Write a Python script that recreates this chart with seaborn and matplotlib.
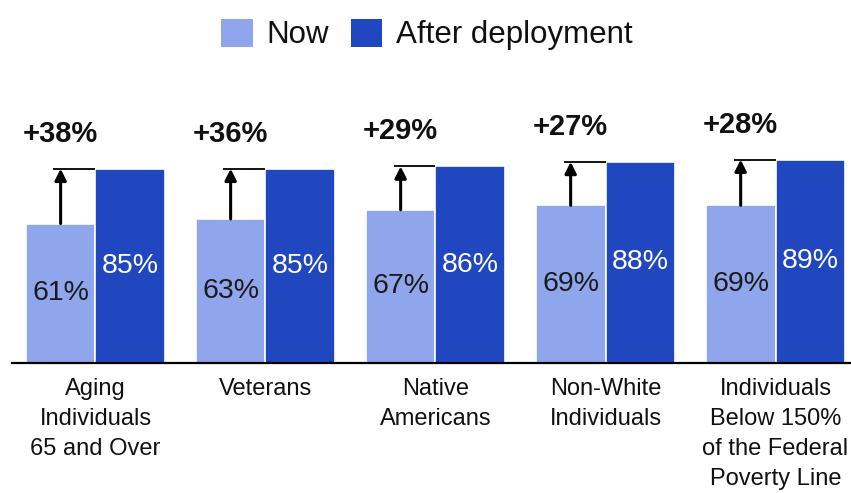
import matplotlib
matplotlib.use("Agg")
import matplotlib.pyplot as plt
from matplotlib.patches import Patch
import seaborn as sns
import pandas as pd

categories = [
    "Aging\nIndividuals\n65 and Over",
    "Veterans",
    "Native\nAmericans",
    "Non-White\nIndividuals",
    "Individuals\nBelow 150%\nof the Federal\nPoverty Line",
]
now_values = [61, 63, 67, 69, 69]
after_values = [85, 85, 86, 88, 89]
increase_labels = ["+38%", "+36%", "+29%", "+27%", "+28%"]
series_names = ["Now", "After deployment"]

COLOR_NOW = "#8FA6EC"
COLOR_AFTER = "#2046C0"

sns.set_theme(style="white")
plt.rcParams["font.family"] = ["Liberation Sans", "DejaVu Sans"]
plt.rcParams["text.color"] = "#111111"

df = pd.DataFrame({
    "group": categories * 2,
    "series": [series_names[0]] * len(categories) + [series_names[1]] * len(categories),
    "value": now_values + after_values,
})

fig = plt.figure(figsize=(8.51, 4.93), dpi=100)
ax = fig.add_axes([12 / 851, 130 / 493, 839 / 851, 363 / 493])

sns.barplot(
    data=df, x="group", y="value", hue="series",
    order=categories, hue_order=series_names,
    palette=[COLOR_NOW, COLOR_AFTER], saturation=1, width=0.82,
    edgecolor="white", linewidth=1.2, ax=ax, legend=False,
)

ax.set_ylim(0, 158.8)
ax.set_xlim(-0.491, 4.444)

for side in ("top", "right", "left"):
    ax.spines[side].set_visible(False)
ax.spines["bottom"].set_color("black")
ax.spines["bottom"].set_linewidth(1.6)
ax.set_xlabel("")
ax.set_ylabel("")
ax.set_yticks([])
ax.tick_params(axis="x", length=0, pad=11, labelsize=17, labelcolor="#111111")
for lbl in ax.get_xticklabels():
    lbl.set_linespacing(1.46)
    lbl.set_verticalalignment("top")

now_bars, after_bars = ax.containers[0], ax.containers[1]
ax.bar_label(now_bars, labels=[f"{v}%" for v in now_values],
             label_type="center", fontsize=20.5, color="#1a1a1a")
ax.bar_label(after_bars, labels=[f"{v}%" for v in after_values],
             label_type="center", fontsize=20.5, color="white")

# arrows from the current level up to the post-deployment level
for rect_now, rect_after, nv, av, txt in zip(now_bars.patches, after_bars.patches,
                                             now_values, after_values, increase_labels):
    xc = rect_now.get_x() + rect_now.get_width() / 2
    ax.plot([xc - 0.042, rect_after.get_x()], [av, av], color="black", lw=1.3,
            solid_capstyle="butt", zorder=4)
    ax.annotate("", xy=(xc, av), xytext=(xc, nv),
                arrowprops=dict(arrowstyle="-|>", color="black", lw=2.2,
                                mutation_scale=17, shrinkA=0, shrinkB=0),
                zorder=5)
    ax.text(xc, av + 15.3, txt, ha="center", va="center",
            fontsize=21, fontweight="bold", color="#111111")

handles = [Patch(facecolor=COLOR_NOW, edgecolor="none"),
           Patch(facecolor=COLOR_AFTER, edgecolor="none")]
fig.legend(handles, series_names, loc="upper center", bbox_to_anchor=(0.502, 1.0),
           ncol=2, frameon=False, fontsize=22.5, handlelength=1.0, handleheight=1.0,
           handletextpad=0.45, columnspacing=0.7, borderaxespad=0.2)

fig.savefig("out.png", dpi=100)
